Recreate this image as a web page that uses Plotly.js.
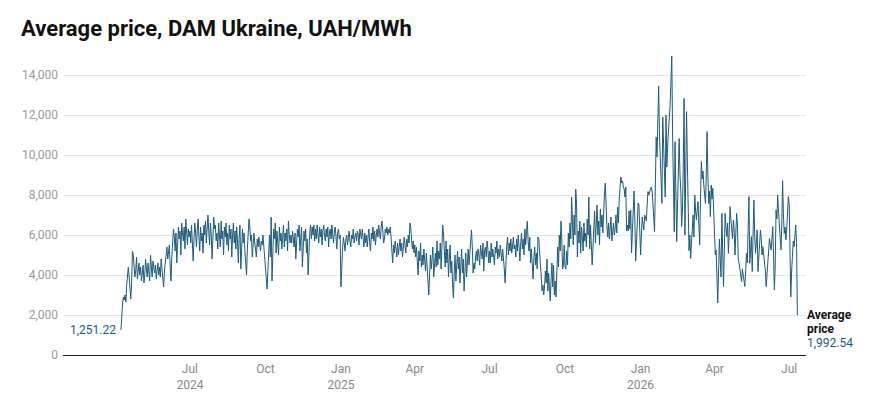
<!DOCTYPE html>
<html>
<head>
<meta charset="utf-8">
<script src="https://cdn.plot.ly/plotly-3.0.1.min.js"></script>
<style>
  body { margin: 0; background: #fff; }
  #chart { width: 870px; height: 403px; }
</style>
</head>
<body>
<div id="chart"></div>
<script>
// daily average DAM price, UAH/MWh, one value per day
const START_DATE = '2024-04-08';

const price2024 = [
  // Apr 8-30
  1251.22, 2350, 2600, 2900, 2750, 3000, 2650, 3500, 4300, 4400, 3900, 3300, 2800, 3600, 5200, 5000, 4600, 3900, 4200, 4900, 3800, 4300, 4600,
  // May
  4000, 4400, 3700, 4100, 4500, 3600, 4000, 4800, 4300, 3900, 4600, 4200, 3700, 5000, 4400, 3900, 4700, 4300, 4100, 4500, 3800, 4200, 4600, 4000, 4400, 3900, 4800, 4300, 3600, 3400, 4200,
  // Jun
  4600, 5000, 5400, 4800, 5300, 5500, 4400, 3700, 4900, 5600, 6300, 5900, 5200, 6100, 4600, 5500, 6400, 5800, 6200, 5000, 6600, 6100, 5700, 6400, 5300, 6800, 6000, 5500, 6300, 5900,
  // Jul
  6200, 5600, 6500, 5100, 4700, 5800, 6600, 6100, 5400, 6300, 6800, 5900, 5200, 6400, 5700, 6100, 5100, 6500, 6000, 6700, 5600, 6300, 7000, 6200, 5500, 6600, 6000, 4800, 5900, 6900, 6300,
  // Aug
  6500, 5700, 6100, 5300, 6600, 6000, 5400, 6700, 5800, 6200, 5000, 6400, 5900, 6600, 5500, 6100, 5200, 6500, 5800, 6300, 4900, 6000, 6600, 5600, 6200, 5300, 6400, 5700, 4600, 5900, 6500,
  // Sep
  4300, 5800, 6300, 5600, 6100, 5200, 4600, 4000, 5300, 6200, 6800, 6400, 5700, 6000, 4900, 5500, 6100, 5600, 5300, 4900, 5800, 5400, 5900, 5500, 5200, 5700, 5500, 6000, 5400, 4700,
  // Oct
  4500, 3800, 3300, 4200, 5300, 6000, 4900, 6900, 3700, 5500, 6300, 5800, 6600, 5100, 6200, 5600, 5000, 6400, 5700, 6100, 5300, 5900, 6500, 5400, 6100, 5700, 6300, 5200, 6700, 6000, 5600,
  // Nov
  6000, 5600, 6200, 5700, 5400, 6100, 4800, 5600, 6300, 5900, 6500, 5200, 6000, 6400, 4400, 5500, 6200, 5700, 6300, 5100, 5800, 4000, 5300, 6100, 6500, 5800, 6400, 6000, 6500, 5700,
  // Dec
  6300, 5800, 6500, 6100, 5600, 6400, 5900, 6300, 5500, 6200, 6500, 6000, 5700, 6300, 5900, 6400, 5400, 6100, 6300, 5800, 6500, 6000, 5600, 6200, 6400, 5900, 5300, 6100, 6300, 5800, 6000
];

const price2025 = [
  // Jan
  3400, 4600, 5300, 5900, 5600, 5200, 5800, 6000, 5500, 5900, 6200, 5700, 5400, 6000, 5800, 6300, 5600, 5900, 6100, 5700, 6200, 6000, 5500, 6300, 6100, 5800, 6300, 5900, 5400, 6100, 5600,
  // Feb
  6000, 5400, 5900, 6300, 5600, 5200, 6100, 5800, 6400, 5700, 6200, 5500, 6000, 6300, 5900, 6500, 6100, 5800, 6400, 6700, 6200, 5600, 5800, 6300, 6100, 6400, 6000, 6300,
  // Mar
  6100, 6400, 5900, 5200, 4600, 5500, 5100, 5700, 5300, 4900, 5600, 5000, 5400, 5800, 5200, 5600, 4900, 5300, 5900, 5500, 5100, 5800, 5400, 6000, 5600, 6600, 6400, 5800, 5300, 5700, 5100,
  // Apr
  5500, 4900, 5400, 4600, 4000, 5200, 4700, 5600, 4400, 5000, 4500, 5300, 4800, 4200, 5100, 4600, 3700, 3000, 4400, 5000, 4300, 4800, 5400, 3900, 4700, 5100, 4400, 5700, 4500, 5200,
  // May
  4800, 5600, 4300, 5900, 6500, 6000, 5200, 4400, 5700, 4600, 5300, 3900, 4800, 5500, 4100, 4700, 3500, 2850, 4200, 5000, 3700, 4600, 5200, 4300, 4900, 3600, 4500, 5300, 4100, 4800, 3200,
  // Jun
  4400, 5100, 3900, 4700, 5300, 4500, 5000, 5800, 6250, 5400, 4100, 4600, 4300, 4900, 5200, 4700, 5300, 5000, 4500, 5500, 5100, 4800, 5600, 4200, 5200, 5400, 4900, 5700, 5300, 4600,
  // Jul
  5200, 4600, 5600, 4900, 5300, 5000, 4500, 5400, 5100, 5700, 4800, 5300, 4900, 5500, 5200, 4700, 5300, 4900, 4300, 3600, 4700, 5500, 5900, 5000, 5600, 5200, 5800, 5100, 5400, 5900, 5300,
  // Aug
  5500, 4900, 5800, 5200, 6000, 5400, 4700, 5600, 6100, 5300, 5800, 5000, 6300, 5500, 6000, 6700, 5700, 5200, 5900, 4600, 5300, 4400, 3800, 4800, 5400, 4500, 5100, 4300, 5900, 5800, 5300,
  // Sep
  4500, 3900, 3200, 3500, 3000, 3400, 4200, 3600, 4800, 3200, 4100, 3500, 2700, 3800, 4600, 3400, 4500, 3000, 3700, 2900, 4200, 5400, 4400, 6000, 5200, 6700, 5800, 4300, 4500, 5500,
  // Oct
  4400, 4300, 5200, 4500, 6100, 5400, 6600, 5800, 7900, 6300, 5500, 7000, 6000, 8300, 7600, 4900, 6200, 5600, 6700, 5100, 6400, 5900, 5200, 6600, 5700, 6100, 5400, 6800, 6000, 7900, 5300,
  // Nov
  6500, 5800, 4500, 5400, 6200, 7200, 5600, 6800, 7500, 6000, 6700, 5500, 7300, 6400, 7000, 6100, 7600, 8000, 8600, 7100, 6400, 5900, 6600, 5800, 6300, 6900, 5700, 6200, 6600, 6000,
  // Dec
  6300, 7000, 6100, 7400, 6600, 7800, 8200, 8900, 8600, 8700, 8400, 8300, 7900, 8400, 6200, 6500, 6200, 7200, 6300, 7250, 5100, 6400, 7400, 8200, 6800, 4700, 5600, 6400, 7600, 7500, 5800
];

const price2026 = [
  // Jan
  5000, 6000, 6900, 6500, 6250, 7000, 6800, 6700, 7500, 8170, 8000, 8200, 8300, 8400, 8200, 7600, 7000, 6170, 8500, 10900, 9900, 11500, 13450, 11000, 9580, 8600, 7580, 11900, 10500, 9300, 7900,
  // Feb
  12000, 9400, 10500, 11000, 11900, 12500, 13500, 14950, 11000, 8000, 6170, 10670, 8500, 5670, 7500, 9500, 10830, 9000, 8250, 6420, 7200, 9500, 12830, 6000, 9000, 12170, 9600, 7580,
  // Mar
  5220, 6000, 4830, 5580, 6500, 7000, 5900, 8000, 7200, 6750, 7300, 7670, 6500, 5500, 7800, 9670, 8800, 9200, 8500, 8000, 7580, 9000, 11170, 9000, 7580, 8200, 6920, 8500, 7800, 8330, 7000,
  // Apr
  5800, 5000, 5250, 4000, 2600, 4200, 5800, 4800, 3900, 7080, 5600, 3420, 5200, 7080, 6400, 5920, 6600, 5080, 6200, 7420, 6800, 6250, 5800, 6750, 6300, 5000, 5800, 7080, 6500, 4750,
  // May
  4600, 4250, 3900, 3670, 4300, 4000, 3700, 3420, 4200, 5080, 4600, 6000, 7920, 4580, 5200, 5920, 4170, 5500, 7750, 6000, 5080, 5600, 6250, 4170, 5000, 5700, 6250, 5800, 5000, 5420, 5100,
  // Jun
  4750, 4200, 3420, 4000, 4750, 5200, 5830, 5500, 5250, 5800, 6420, 5000, 3250, 4500, 7250, 6800, 8000, 7200, 6580, 6000, 5250, 6500, 8720, 7000, 6080, 6400, 5750, 6300, 7250, 7920,
  // Jul 1-11
  7600, 5000, 2900, 4200, 5080, 5700, 5420, 5900, 6500, 5600, 1992.54
];

const tickDates = ['2024-07-01', '2024-10-01', '2025-01-01', '2025-04-01', '2025-07-01',
  '2025-10-01', '2026-01-01', '2026-04-01', '2026-07-01'];
const tickLabels = ['Jul<br>2024', 'Oct', 'Jan<br>2025', 'Apr', 'Jul', 'Oct', 'Jan<br>2026', 'Apr', 'Jul'];
const yTicks = [0, 2000, 4000, 6000, 8000, 10000, 12000, 14000];

const LINE_COLOR = '#1f5b7a';
const LABEL_COLOR = '#1c5e76';

function buildDates(start, count) {
  const dates = [];
  const d = new Date(start + 'T00:00:00Z');
  for (let i = 0; i < count; i++) {
    dates.push(d.toISOString().slice(0, 10));
    d.setUTCDate(d.getUTCDate() + 1);
  }
  return dates;
}

const prices = price2024.concat(price2025, price2026);
const dates = buildDates(START_DATE, prices.length);
const lastIdx = prices.length - 1;

function fmt(v) {
  return v.toLocaleString('en-US', {minimumFractionDigits: 2, maximumFractionDigits: 2});
}

const trace = {
  x: dates,
  y: prices,
  type: 'scatter',
  mode: 'lines',
  line: {color: LINE_COLOR, width: 1},
  hoverinfo: 'skip'
};

// end label, one annotation per line so the line spacing can be tight
function endLabel(text, shift, color) {
  return {
    x: dates[lastIdx],
    y: prices[lastIdx],
    text: text,
    showarrow: false,
    xanchor: 'left',
    yanchor: 'middle',
    xshift: 8,
    yshift: shift,
    font: {size: 12, color: color}
  };
}

const layout = {
  width: 870,
  height: 403,
  margin: {l: 63, r: 64, t: 55, b: 48, pad: 0},
  paper_bgcolor: '#fff',
  plot_bgcolor: '#fff',
  font: {family: 'Roboto, sans-serif', size: 12, color: '#888'},
  showlegend: false,
  title: {
    text: '<b>Average price, DAM Ukraine, UAH/MWh</b>',
    font: {family: 'Roboto, sans-serif', size: 22, color: '#111'},
    xref: 'container',
    yref: 'container',
    x: 21 / 870,
    xanchor: 'left',
    y: 1 - 28 / 403,
    yanchor: 'middle'
  },
  xaxis: {
    type: 'date',
    range: ['2024-01-28 10:00', '2026-07-21 12:00'],
    tickvals: tickDates,
    ticktext: tickLabels,
    ticks: '',
    ticklabelstandoff: 3,
    showgrid: false,
    zeroline: false,
    showline: true,
    linecolor: '#222',
    linewidth: 1,
    tickfont: {size: 12, color: '#888'},
    fixedrange: true
  },
  yaxis: {
    range: [0, 15000],
    tickvals: yTicks,
    tickformat: ',',
    showgrid: true,
    gridcolor: '#e4e4e4',
    gridwidth: 1,
    zeroline: false,
    showline: false,
    ticks: '',
    ticklabelstandoff: 4,
    tickfont: {size: 12, color: '#999'},
    fixedrange: true
  },
  annotations: [
    {
      x: dates[0],
      y: prices[0],
      text: fmt(prices[0]),
      showarrow: false,
      xanchor: 'right',
      yanchor: 'middle',
      xshift: -3,
      font: {size: 12, color: LABEL_COLOR}
    },
    endLabel('<b>Average</b>', 0, '#111'),
    endLabel('<b>price</b>', -13.5, '#111'),
    endLabel(fmt(prices[lastIdx]), -27.5, LABEL_COLOR)
  ]
};

Plotly.newPlot('chart', [trace], layout, {displayModeBar: false, staticPlot: true});
</script>
</body>
</html>
